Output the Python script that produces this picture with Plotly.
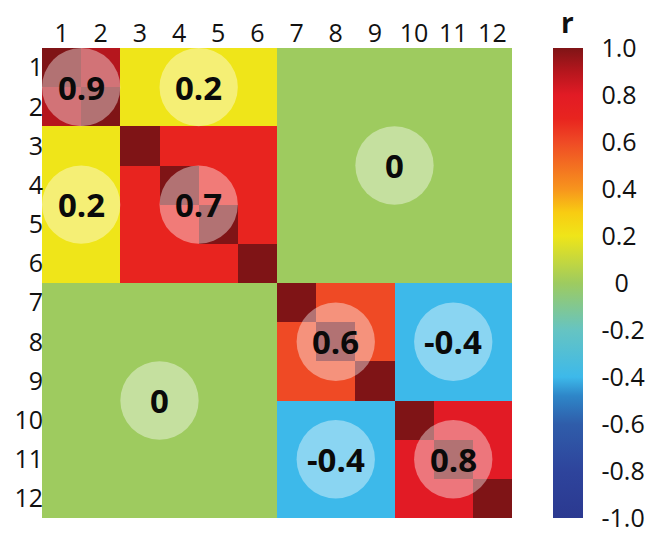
import numpy as np
import plotly.graph_objects as go

# Variables 1..12 and the block (cluster) each one belongs to
variables = list(range(1, 13))
block_of = [0, 0, 1, 1, 1, 1, 2, 2, 2, 3, 3, 3]

# Correlation between members of the same block (off-diagonal)
within_r = [0.9, 0.7, 0.6, 0.8]

# Correlation between blocks
between_r = [
    [None, 0.2, 0.0, 0.0],
    [0.2, None, 0.0, 0.0],
    [0.0, 0.0, None, -0.4],
    [0.0, 0.0, -0.4, None],
]

# Labelled regions: (first row, last row, first col, last col, value)
regions = [
    (1, 2, 1, 2, 0.9),
    (1, 2, 3, 6, 0.2),
    (3, 6, 1, 2, 0.2),
    (3, 6, 3, 6, 0.7),
    (1, 6, 7, 12, 0.0),
    (7, 12, 1, 6, 0.0),
    (7, 9, 7, 9, 0.6),
    (7, 9, 10, 12, -0.4),
    (10, 12, 7, 9, -0.4),
    (10, 12, 10, 12, 0.8),
]

cbar_vals = [1.0, 0.8, 0.6, 0.4, 0.2, 0.0, -0.2, -0.4, -0.6, -0.8, -1.0]

# Build the correlation matrix
n = len(variables)
R = np.zeros((n, n))
for i in range(n):
    for j in range(n):
        bi, bj = block_of[i], block_of[j]
        if i == j:
            R[i, j] = 1.0
        elif bi == bj:
            R[i, j] = within_r[bi]
        else:
            R[i, j] = between_r[bi][bj]

colorscale = [
    [0.00, "#2B3990"],
    [0.10, "#2E449C"],
    [0.20, "#2F5DAA"],
    [0.26, "#2E86C8"],
    [0.30, "#3DB9EA"],
    [0.40, "#66C4C2"],
    [0.50, "#9ECB5F"],
    [0.60, "#EFE519"],
    [0.65, "#F8CC12"],
    [0.70, "#F7941D"],
    [0.80, "#EF4A25"],
    [0.85, "#E8241F"],
    [0.90, "#E21B25"],
    [0.95, "#B5161D"],
    [1.00, "#7F1416"],
]

def fmt(v):
    return "0" if v == 0 else f"{v:.1f}"

cbar_text = [("\u00a0\u00a00" if v == 0 else fmt(v)) for v in cbar_vals]

fig = go.Figure(
    go.Heatmap(
        z=R,
        x=variables,
        y=variables,
        zmin=-1,
        zmax=1,
        colorscale=colorscale,
        hoverinfo="skip",
        colorbar=dict(
            x=1.0872,
            xanchor="left",
            xpad=0,
            ypad=0,
            y=0.5,
            yanchor="middle",
            len=1,
            lenmode="fraction",
            thickness=30,
            outlinewidth=0,
            tickvals=cbar_vals,
            ticktext=cbar_text,
            ticks="outside",
            ticklen=14,
            tickcolor="rgba(0,0,0,0)",
            tickfont=dict(family="Open Sans", size=25, color="#111"),
        ),
    )
)

shapes = []
annotations = []
for r0, r1, c0, c1, v in regions:
    cx = (c0 + c1) / 2
    cy = (r0 + r1) / 2
    shapes.append(
        dict(
            type="circle",
            xref="x",
            yref="y",
            x0=cx - 1,
            x1=cx + 1,
            y0=cy - 1,
            y1=cy + 1,
            fillcolor="rgba(255,255,255,0.4)",
            line=dict(width=0),
            layer="above",
        )
    )
    annotations.append(
        dict(
            x=cx,
            y=cy,
            xref="x",
            yref="y",
            text=f"<b>{fmt(v)}</b>",
            showarrow=False,
            font=dict(family="Open Sans", size=33, color="#0a0a0a"),
        )
    )

# colour-bar title
annotations.append(
    dict(
        x=1.119,
        y=1.055,
        xref="paper",
        yref="paper",
        xanchor="center",
        yanchor="middle",
        text="<b>r</b>",
        showarrow=False,
        font=dict(family="Open Sans", size=28, color="#111"),
    )
)

fig.update_layout(
    width=648,
    height=536,
    margin=dict(l=42, r=136, t=48, b=18, autoexpand=False),
    paper_bgcolor="white",
    plot_bgcolor="white",
    shapes=shapes,
    annotations=annotations,
    xaxis=dict(
        side="top",
        range=[0.5, 12.5],
        tickvals=variables,
        ticks="",
        showgrid=False,
        zeroline=False,
        showline=False,
        tickfont=dict(family="Open Sans", size=25, color="#111"),
    ),
    yaxis=dict(
        range=[12.5, 0.5],
        tickvals=variables,
        ticks="",
        showgrid=False,
        zeroline=False,
        showline=False,
        ticklabelstandoff=-2,
        tickfont=dict(family="Open Sans", size=25, color="#111"),
    ),
)

fig.write_html("out.html")
